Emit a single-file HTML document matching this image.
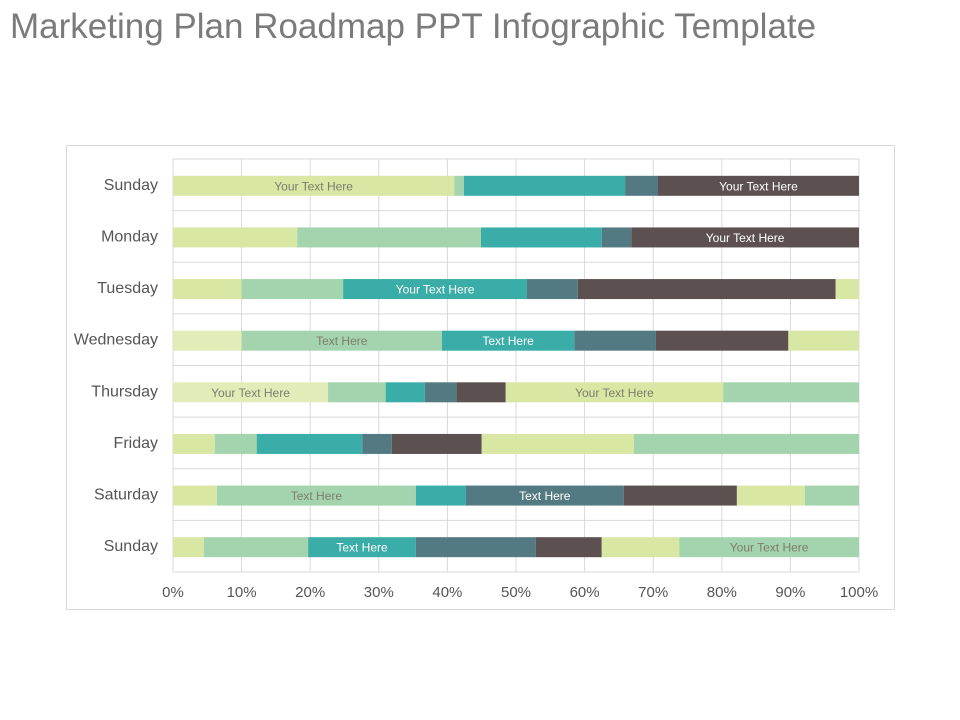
<!DOCTYPE html>
<html><head><meta charset="utf-8"><style>
body{margin:0;background:#fff;width:960px;height:720px;overflow:hidden;font-family:"Liberation Sans",sans-serif}
#title{position:absolute;left:10px;top:7px;font-size:35px;color:#7b7b7b;white-space:nowrap}
#frame{position:absolute;left:66px;top:145px;width:827px;height:463px;border:1px solid #d9d9d9}
svg{position:absolute;left:0;top:0}
</style></head><body>
<div id="title">Marketing Plan Roadmap PPT Infographic Template</div>
<div id="frame"></div>
<svg id="chart" width="960" height="720"></svg>
<script>
const categories=["Sunday","Monday","Tuesday","Wednesday","Thursday","Friday","Saturday","Sunday"];
const segColors=[
 ["l","m","t","s","d"],
 ["l","m","t","s","d"],
 ["l","m","t","s","d","l"],
 ["p","m","t","s","d","l"],
 ["p","m","t","s","d","l","m"],
 ["l","m","t","s","d","l","m"],
 ["l","m","t","s","d","l","m"],
 ["l","m","t","s","d","l","m"]];
const segValues=[
 [41,1.4,23.5,4.8,29.3],
 [18.1,26.8,17.6,4.3,33.2],
 [10,14.8,26.8,7.4,37.6,3.4],
 [10,29.2,19.3,11.9,19.3,10.3],
 [22.6,8.4,5.7,4.6,7.2,31.7,19.8],
 [6.1,6.1,15.4,4.3,13.1,22.2,32.8],
 [6.4,29,7.3,23,16.5,9.9,7.9],
 [4.5,15.2,15.7,17.5,9.6,11.3,26.2]];
const segLabels=[
 ["Your Text Here","","","","Your Text Here"],
 ["","","","","Your Text Here"],
 ["","","Your Text Here","","",""],
 ["","Text Here","Text Here","","",""],
 ["Your Text Here","","","","","Your Text Here",""],
 ["","","","","","",""],
 ["","Text Here","","Text Here","","",""],
 ["","","Text Here","","","","Your Text Here"]];
const xTicks=["0%","10%","20%","30%","40%","50%","60%","70%","80%","90%","100%"];
const palette={l:"#d8e7a4",p:"#e2ecb8",m:"#a4d4ad",t:"#3aada8",s:"#537a82",d:"#5c5150"};
const light={l:1,p:1,m:1};
const X0=173,X1=859,Y0=159,Y1=572;
const x=v=>X0+(X1-X0)*v/100;
const band=(Y1-Y0)/categories.length;
const yc=i=>Y0+band*(i+0.5);
const svg=document.getElementById('chart');
const NS="http://www.w3.org/2000/svg";
function mk(t,a){const e=document.createElementNS(NS,t);for(const k in a)e.setAttribute(k,a[k]);svg.appendChild(e);return e;}
for(let i=0;i<=10;i++){const g=mk('line',{x1:x(i*10),x2:x(i*10),y1:Y0,y2:Y1,stroke:"#d9d9d9"});

}
for(let i=0;i<=categories.length;i++){const yy=Y0+band*i;const g=mk('line',{x1:X0,x2:X1,y1:yy,y2:yy,stroke:"#d9d9d9"});

}
categories.forEach((c,i)=>{
 let acc=0;
 segValues[i].forEach((v,j)=>{
  const k=segColors[i][j];
  const r=mk('rect',{x:x(acc),y:yc(i)-9,width:x(acc+v)-x(acc),height:20,fill:palette[k]});
  
  
  if(segLabels[i][j]){const t=mk('text',{x:(x(acc)+x(acc+v))/2,y:yc(i)+5.5,"text-anchor":"middle","font-size":12,fill:light[k]?"#7d7d6e":"#ffffff"});t.textContent=segLabels[i][j];
   
   }
  acc+=v;
 });
 const t=mk('text',{x:158,y:yc(i)+5,"text-anchor":"end","font-size":16,fill:"#555"});t.textContent=c;
 
 
});
xTicks.forEach((s,i)=>{const t=mk('text',{x:x(i*10),y:597,"text-anchor":"middle","font-size":15,fill:"#555"});t.textContent=s;
 
 });
</script>
</body></html>
